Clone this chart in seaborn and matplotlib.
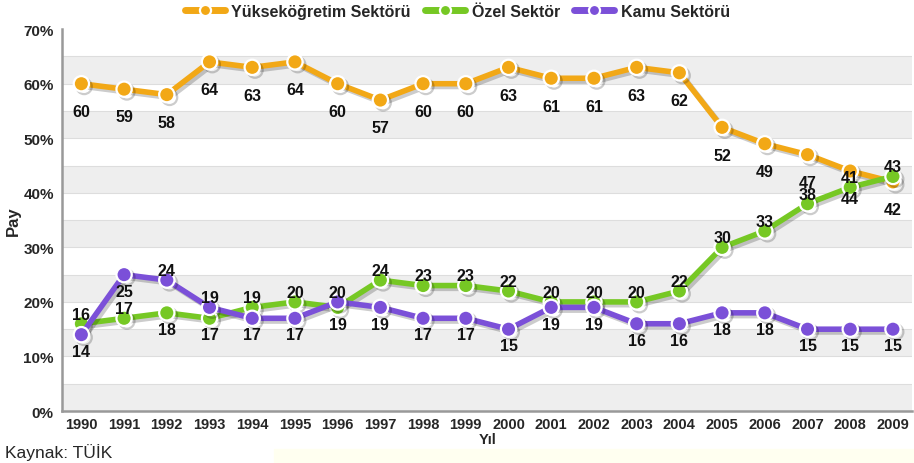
import numpy as np
import pandas as pd
import seaborn as sns
import matplotlib.pyplot as plt
import matplotlib.patheffects as pe
from matplotlib.patches import Rectangle

# Veriler
years = [str(y) for y in range(1990, 2010)]
yuksek = [60, 59, 58, 64, 63, 64, 60, 57, 60, 60, 63, 61, 61, 63, 62, 52, 49, 47, 44, 42]
ozel = [16, 17, 18, 17, 19, 20, 19, 24, 23, 23, 22, 20, 20, 20, 22, 30, 33, 38, 41, 43]
kamu = [14, 25, 24, 19, 17, 17, 20, 19, 17, 17, 15, 19, 19, 16, 16, 18, 18, 15, 15, 15]
series_names = ["Yükseköğretim Sektörü", "Özel Sektör", "Kamu Sektörü"]
y_ticks = [0, 10, 20, 30, 40, 50, 60, 70]

colors = ["#F2A816", "#76C824", "#7B50D8"]

df = pd.DataFrame({"Yıl": years * 3,
                   "Pay": yuksek + ozel + kamu,
                   "Sektör": np.repeat(series_names, len(years))})
df["pos"] = np.tile(np.arange(len(years)), 3)

sns.set_style("white")
plt.rcParams["font.family"] = ["Liberation Sans", "DejaVu Sans"]

fig = plt.figure(figsize=(9.14, 4.64), dpi=100)
ax = fig.add_axes([0.068, 0.112, 0.93, 0.823])

# faint yellow strip at the bottom
fig.patches.append(Rectangle((0.30, 0.0), 0.70, 0.03, transform=fig.transFigure,
                             color="#FFFFF0", zorder=0))

# alternating bands
for lo in range(0, 70, 10):
    ax.axhspan(lo, lo + 5, color="#EEEEEE", zorder=0, lw=0)
for v in range(5, 70, 5):
    ax.axhline(v, color="#DDDDDD", lw=0.8, zorder=0.5)

shadow = [pe.SimpleLineShadow(offset=(2, -2), shadow_color="black", alpha=0.2), pe.Normal()]
for name, c in zip(series_names, colors):
    sub = df[df["Sektör"] == name]
    sns.lineplot(data=sub, x="pos", y="Pay", ax=ax, color=c, lw=4, marker="o",
                 markersize=11, markeredgecolor="white", markeredgewidth=1.6,
                 label=name, zorder=3, path_effects=shadow)

# data labels
lab = dict(ha="center", va="center", fontsize=11.5, fontweight="bold", color="#111111",
           textcoords="offset points", zorder=5)
for i in range(len(years)):
    ax.annotate(str(yuksek[i]), (i, yuksek[i]), xytext=(0, -20), **lab)
    oz_up = ozel[i] >= kamu[i] or i == 1
    ax.annotate(str(ozel[i]), (i, ozel[i]), xytext=(0, 7 if oz_up else -12), **lab)
    ax.annotate(str(kamu[i]), (i, kamu[i]), xytext=(0, -12 if oz_up else 7), **lab)

ax.set_xlim(-0.45, len(years) - 0.55)
ax.set_ylim(0, 70)
ax.set_yticks(y_ticks)
ax.set_yticklabels([f"{v}%" for v in y_ticks], fontsize=11, fontweight="bold")
ax.set_xticks(range(len(years)))
ax.set_xticklabels(years, fontsize=10.5, fontweight="bold")
ax.set_xticks(np.arange(len(years) - 1) + 0.5, minor=True)
ax.tick_params(axis="x", which="major", length=0, pad=4)
ax.tick_params(axis="x", which="minor", length=4, color="#888888", direction="out")
ax.tick_params(axis="y", length=4, color="#888888", direction="out", pad=2)
ax.set_xlabel("Yıl", fontsize=10.5, fontweight="bold", labelpad=1)
ax.set_ylabel("Pay", fontsize=12, fontweight="bold", labelpad=2)

for s in ["top", "right"]:
    ax.spines[s].set_visible(False)
for s in ["left", "bottom"]:
    ax.spines[s].set_color("#999999")
    ax.spines[s].set_linewidth(1.8)

leg = ax.legend(loc="center", bbox_to_anchor=(0.465, 1.047), ncol=3, frameon=False,
                prop={"weight": "bold", "size": 11.5}, handlelength=2.5, columnspacing=0.9,
                handletextpad=0.4, borderaxespad=0)
for h in leg.legend_handles:
    h.set_markersize(8)
    h.set_linewidth(5)
    h.set_path_effects([])

fig.text(0.005, 0.025, "Kaynak: TÜİK", fontsize=12.5, ha="left", va="center")

fig.savefig("out.png", dpi=100)
